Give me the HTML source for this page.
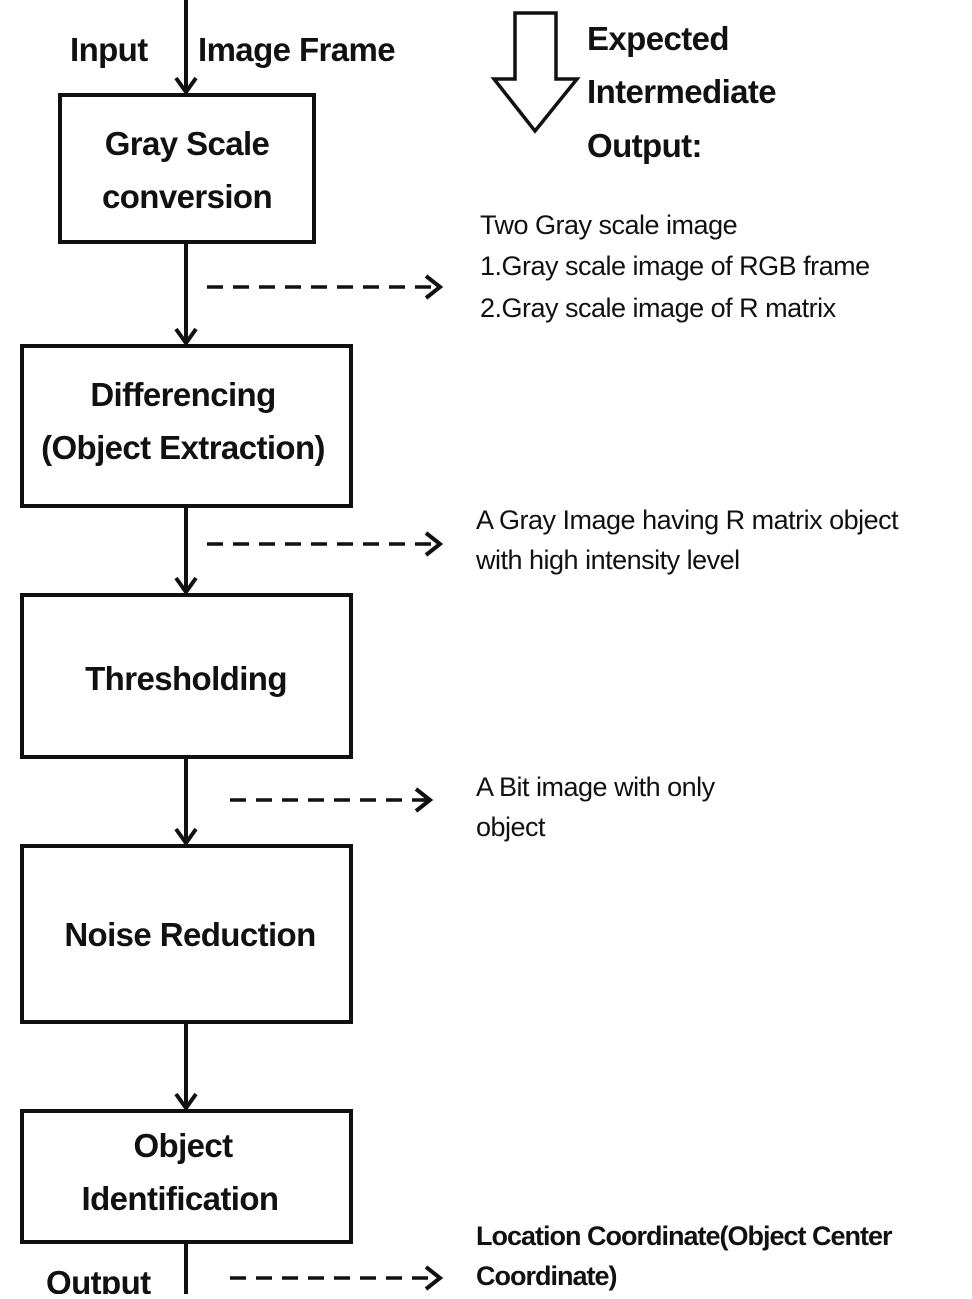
<!DOCTYPE html>
<html><head><meta charset="utf-8"><style>
html,body{margin:0;padding:0;background:#fff;}
svg text{font-family:"Liberation Sans",sans-serif;fill:#111;}
.b{font-weight:bold;font-size:33px;letter-spacing:-0.6px;}
.r{font-size:27px;letter-spacing:-0.5px;}
</style></head><body>
<svg width="972" height="1294" viewBox="0 0 972 1294" xmlns="http://www.w3.org/2000/svg">
<g stroke="#111" stroke-width="4" fill="none">
<rect x="60" y="95" width="254" height="147"/>
<rect x="22" y="346" width="329" height="160"/>
<rect x="22" y="595" width="329" height="162"/>
<rect x="22" y="846" width="329" height="176"/>
<rect x="22" y="1111" width="329" height="131"/>
<line x1="186" y1="0" x2="186" y2="92"/>
<line x1="186" y1="242" x2="186" y2="343"/>
<line x1="186" y1="506" x2="186" y2="592"/>
<line x1="186" y1="757" x2="186" y2="843"/>
<line x1="186" y1="1022" x2="186" y2="1108"/>
<line x1="186" y1="1242" x2="186" y2="1294"/>
<path d="M176,78 L186,92 L196,78"/>
<path d="M176,329 L186,343 L196,329"/>
<path d="M176,578 L186,592 L196,578"/>
<path d="M176,829 L186,843 L196,829"/>
<path d="M176,1094 L186,1108 L196,1094"/>
<g stroke-dasharray="16,10" stroke-width="3.5">
<line x1="207" y1="287" x2="438" y2="287"/>
<line x1="207" y1="544" x2="438" y2="544"/>
<line x1="230" y1="800" x2="428" y2="800"/>
<line x1="230" y1="1278" x2="438" y2="1278"/>
</g>
<path d="M426,276 L440,287 L426,298"/>
<path d="M426,533 L440,544 L426,555"/>
<path d="M416,789 L430,800 L416,811"/>
<path d="M426,1267 L440,1278 L426,1289"/>
<path d="M515,13 L556,13 L556,79 L577,79 L535,131 L494,79 L515,79 Z" stroke-width="3.5"/>
</g>
<text class="b" x="70" y="61">Input</text>
<text class="b" x="198" y="61">Image Frame</text>
<text class="b" x="587" y="50">Expected</text>
<text class="b" x="587" y="103">Intermediate</text>
<text class="b" x="587" y="157">Output:</text>
<g class="b" text-anchor="middle">
<text x="187" y="155">Gray Scale</text>
<text x="187" y="208">conversion</text>
<text x="183" y="406">Differencing</text>
<text x="183" y="459">(Object Extraction)</text>
<text x="186" y="690">Thresholding</text>
<text x="190" y="946">Noise Reduction</text>
<text x="183" y="1157">Object</text>
<text x="180" y="1210">Identification</text>
</g>
<text class="b" x="46" y="1294">Output</text>
<g class="r">
<text x="480" y="234">Two Gray scale image</text>
<text x="480" y="275">1.Gray scale  image of RGB frame</text>
<text x="480" y="317">2.Gray scale image of  R matrix</text>
<text x="476" y="529">A Gray Image having  R matrix object</text>
<text x="476" y="569">with high intensity level</text>
<text x="476" y="796">A Bit image with only</text>
<text x="476" y="836">object</text>
<text x="476" y="1245" font-weight="bold" letter-spacing="-1">Location Coordinate(Object Center</text>
<text x="476" y="1285" font-weight="bold" letter-spacing="-1">Coordinate)</text>
</g>
</svg>
</body></html>
